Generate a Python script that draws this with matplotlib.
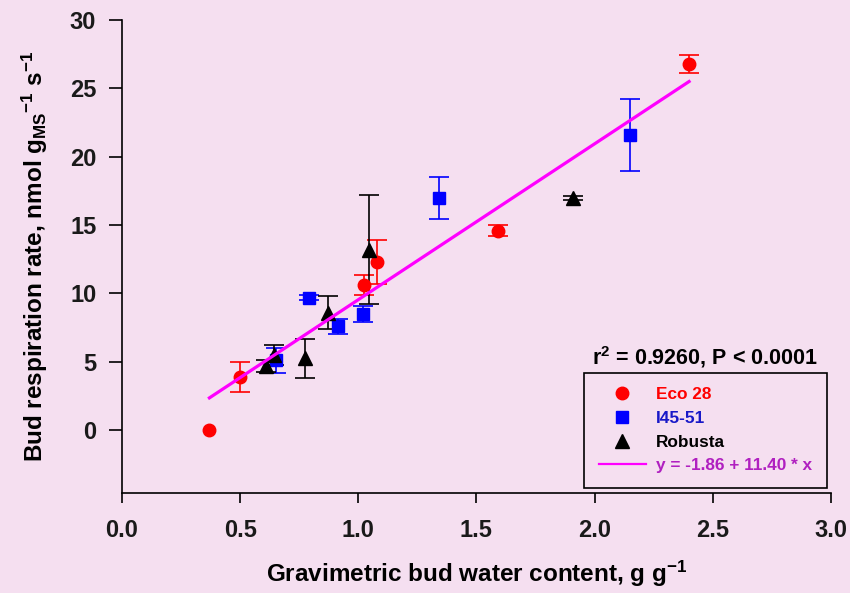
import numpy as np
import matplotlib
matplotlib.use("Agg")
import matplotlib.pyplot as plt
from matplotlib.lines import Line2D

plt.rcParams['font.family'] = ['Liberation Sans', 'DejaVu Sans']
plt.rcParams['font.weight'] = 'bold'
plt.rcParams['mathtext.fontset'] = 'custom'
plt.rcParams['mathtext.rm'] = 'Liberation Sans:bold'
plt.rcParams['mathtext.it'] = 'Liberation Sans:bold'
plt.rcParams['mathtext.bf'] = 'Liberation Sans:bold'

# Eco 28
eco_x = [0.37, 0.50, 1.025, 1.08, 1.59, 2.40]
eco_y = [0.0, 3.9, 10.6, 12.3, 14.6, 26.8]
eco_err = [np.nan, 1.1, 0.75, 1.6, 0.4, 0.65]

# I45-51
i45_x = [0.65, 0.79, 0.915, 1.02, 1.34, 2.15]
i45_y = [5.1, 9.7, 7.6, 8.5, 17.0, 21.6]
i45_err = [0.9, 0.2, 0.55, 0.6, 1.55, 2.65]

# Robusta
rob_x = [0.61, 0.645, 0.775, 0.87, 1.047, 1.91]
rob_y = [4.7, 5.5, 5.25, 8.6, 13.2, 17.0]
rob_err = [0.45, 0.7, 1.45, 1.2, 4.0, 0.15]

# regression
fit_intercept = -1.86
fit_slope = 11.40
fit_x = np.array([0.37, 2.40])

bg = '#F5DFF0'
fig = plt.figure(figsize=(8.5, 5.93), dpi=100, facecolor=bg)
ax = fig.add_axes([0.1435, 0.1686, 0.834, 0.7977], facecolor=bg)

ax.errorbar(eco_x, eco_y, yerr=eco_err, fmt='o', color='#FF0000', ms=9,
            capsize=7, elinewidth=1.2, capthick=1.2, zorder=3)
ax.errorbar(i45_x, i45_y, yerr=i45_err, fmt='s', color='#0000FF', ms=8.5,
            capsize=7, elinewidth=1.2, capthick=1.2, zorder=3)
ax.errorbar(rob_x, rob_y, yerr=rob_err, fmt='^', color='black', ms=10,
            capsize=7, elinewidth=1.2, capthick=1.2, zorder=3)
ax.plot(fit_x, fit_intercept + fit_slope * fit_x, color='#FF00FF', lw=2.3, zorder=4)

ax.set_xlim(0, 3.0)
ax.set_ylim(-4.6, 30)
ax.set_xticks(np.arange(0, 3.01, 0.5))
ax.set_yticks(np.arange(0, 31, 5))
ax.set_xticklabels(['0.0', '0.5', '1.0', '1.5', '2.0', '2.5', '3.0'])
for s in ['top', 'right']:
    ax.spines[s].set_visible(False)
for s in ['left', 'bottom']:
    ax.spines[s].set_linewidth(1.2)
ax.tick_params(axis='x', direction='out', length=7.5, width=1.2, labelsize=17, pad=11)
ax.tick_params(axis='y', direction='out', length=9.5, width=1.2, labelsize=17, pad=9)
for t in ax.get_xticklabels() + ax.get_yticklabels():
    t.set_fontweight('bold')
    t.set_color('#1a1a1a')

ax.set_xlabel('Gravimetric bud water content, g g$^{-1}$', fontsize=17.5,
              fontweight='bold', labelpad=12)
ax.set_ylabel('Bud respiration rate, nmol g$_{MS}$$^{-1}$ s$^{-1}$', fontsize=17.5,
              fontweight='bold', labelpad=14)

handles = [
    Line2D([], [], marker='o', ls='none', color='#FF0000', ms=9),
    Line2D([], [], marker='s', ls='none', color='#0000FF', ms=8.5),
    Line2D([], [], marker='^', ls='none', color='black', ms=10),
    Line2D([], [], color='#FF00FF', lw=1.6),
]
labels = ['Eco 28', 'I45-51', 'Robusta', 'y = -1.86 + 11.40 * x']
leg = ax.legend(handles, labels, loc='lower right',
                bbox_to_anchor=(827 / 850, 1 - 488 / 593),
                bbox_transform=fig.transFigure, borderaxespad=0,
                prop={'size': 12.4, 'weight': 'bold'},
                labelcolor=['#FF0000', '#1818C8', 'black', '#B020C0'],
                fancybox=False, edgecolor='black', facecolor=bg, framealpha=1,
                borderpad=0.85, handlelength=2.75, handletextpad=0.6,
                labelspacing=0.5)
leg.get_frame().set_linewidth(1.2)

fig.text(705 / 850, 1 - 365 / 593, r'r$^{2}$ = 0.9260, P < 0.0001', ha='center',
         va='baseline', fontsize=15.5, fontweight='bold')

fig.savefig('out.png', dpi=100, facecolor=bg)
